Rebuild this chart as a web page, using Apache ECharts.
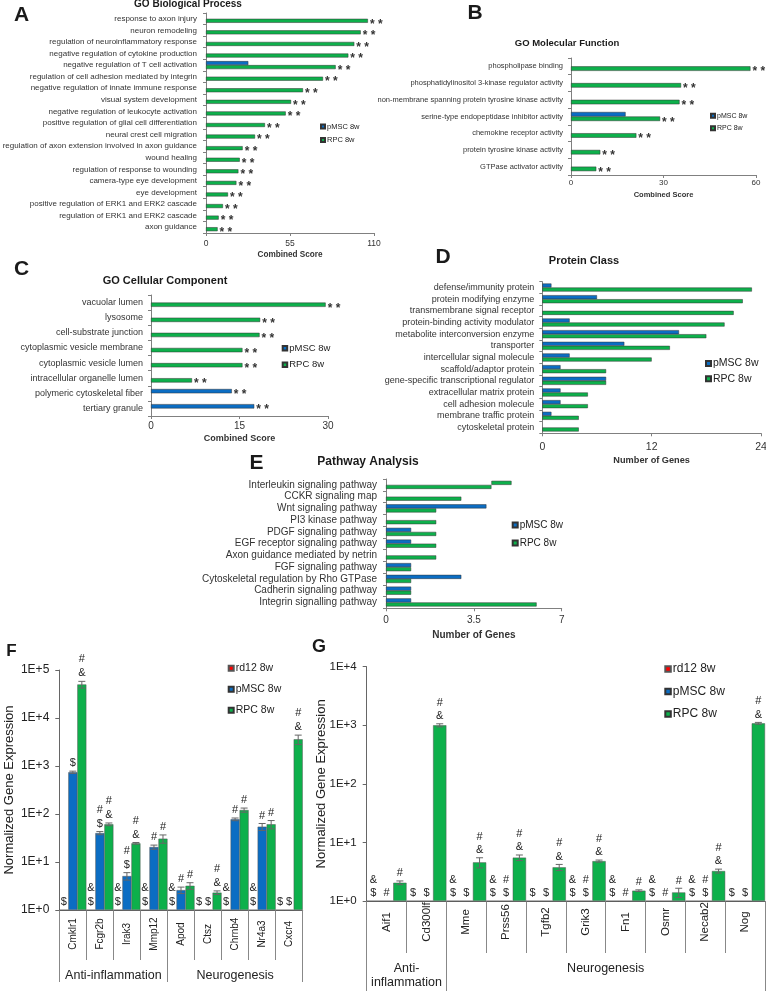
<!DOCTYPE html>
<html><head><meta charset="utf-8">
<script src="https://cdn.jsdelivr.net/npm/echarts@6/dist/echarts.min.js"></script>
<style>html,body{margin:0;padding:0;background:#fff}#c{width:766px;height:991px}</style>
</head><body><div id="c"></div>
<script>
const FONT = 'Liberation Sans, Arial, sans-serif';
const BLUE = '#0B6DC3', GREEN = '#0DB04B', RED = '#FF0000';

// ---------- Panel A: GO Biological Process ----------
const aCats = ['response to axon injury','neuron remodeling','regulation of neuroinflammatory response','negative regulation of cytokine production','negative regulation of T cell activation','regulation of cell adhesion mediated by integrin','negative regulation of innate immune response','visual system development','negative regulation of leukocyte activation','positive regulation of glial cell differentiation','neural crest cell migration','regulation of axon extension involved in axon guidance','wound healing','regulation of response to wounding','camera-type eye development','eye development','positive regulation of ERK1 and ERK2 cascade','regulation of ERK1 and ERK2 cascade','axon guidance'];
const aPMSC = [0,0,0,0,27.7,0,0,0,0,0,0,0,0,0,0,0,0,0,0];
const aRPC = [106,101.3,97.1,93.2,84.9,76.6,63.5,55.7,52.2,38.6,32.1,24,22.1,21.2,19.9,14.4,11.1,8.3,7.6];

// ---------- Panel B: GO Molecular Function ----------
const bCats = ['phospholipase binding','phosphatidylinositol 3-kinase regulator activity','non-membrane spanning protein tyrosine kinase activity','serine-type endopeptidase inhibitor activity','chemokine receptor activity','protein tyrosine kinase activity','GTPase activator activity'];
const bPMSC = [0,0,0,17.7,0,0,0];
const bRPC = [58.2,35.7,35.2,28.9,21.2,9.5,8.2];

// ---------- Panel C: GO Cellular Component ----------
const cCats = ['vacuolar lumen','lysosome','cell-substrate junction','cytoplasmic vesicle membrane','cytoplasmic vesicle lumen','intracellular organelle lumen','polymeric cytoskeletal fiber','tertiary granule'];
const cPMSC = [0,0,0,0,0,0,13.7,17.5];
const cRPC = [29.6,18.5,18.4,15.5,15.5,6.95,0,0];

// ---------- Panel D: Protein Class ----------
const dCats = ['defense/immunity protein','protein modifying enzyme','transmembrane signal receptor','protein-binding activity modulator','metabolite interconversion enzyme','transporter','intercellular signal molecule','scaffold/adaptor protein','gene-specific transcriptional regulator','extracellular matrix protein','cell adhesion molecule','membrane traffic protein','cytoskeletal protein'];
const dPMSC = [1,6,0,3,15,9,3,2,7,2,2,1,0];
const dRPC = [23,22,21,20,18,14,12,7,7,5,5,4,4];

// ---------- Panel E: Pathway Analysis ----------
const eCats = ['Interleukin signaling pathway','CCKR signaling map','Wnt signaling pathway','PI3 kinase pathway','PDGF signaling pathway','EGF receptor signaling pathway','Axon guidance mediated by netrin','FGF signaling pathway','Cytoskeletal regulation by Rho GTPase','Cadherin signaling pathway','Integrin signalling pathway'];
const ePMSC = [0,0,4,0,1,1,0,1,3,1,1];
const eRPC = [4.2,3,2,2,2,2,2,1,1,1,6];
const eRPCExtraTo = [5,0,0,0,0,0,0,0,0,0,0];

// ---------- Panel F ----------
const fCats = ['Cmklr1','Fcgr2b','Irak3','Mmp12','Apod','Ctsz','Chrnb4','Nr4a3','Cxcr4'];
const fRd12 = [1,1,1,1,1,1,1,1,1];
const fPMSC = [741,40,5.1,20.5,2.6,1,77.5,54.4,1];
const fRPC = [50000,61,24.5,30.6,3.2,2.3,121,61,3600];
const fPMSCErr = [40,3,0.9,2,0.4,0,5,9,0];
const fRPCErr = [8000,4,1,6,0.5,0.2,12,12,800];
const fRd12Sig = ['$','&\n$','&\n$','&\n$','&\n$','$','&\n$','&\n$','$'];
const fPMSCSig = ['$','#\n$','#\n$','#','#','$','#','#','$'];
const fRPCSig = ['#\n&','#\n&','#\n&','#','#','#\n&','#','#','#\n&'];
const fGroups = [{name:'Anti-inflammation', from:0, to:4},{name:'Neurogenesis', from:4, to:9}];

// ---------- Panel G ----------
const gCats = ['Aif1','Cd300lf','Mme','Prss56','Tgfb2','Grik3','Fn1','Osmr','Necab2','Nog'];
const gRd12 = [1,1,1,1,1,1,1,1,1,1];
const gPMSC = [1,1,1,1,1,1,1,1,1,1];
const gRPC = [2.05,1000,4.57,5.5,3.76,4.8,1.5,1.4,3.25,1080];
const gPMSCErr = [0,0,0,0,0,0,0,0,0,0];
const gRPCErr = [0.15,60,0.9,0.6,0.45,0.2,0.05,0.25,0.25,40];
const gRd12Sig = ['&\n$','$','&\n$','&\n$','$','&\n$','&\n$','&\n$','&\n$','$'];
const gPMSCSig = ['#','$','$','#\n$','$','#\n$','#','#','#\n$','$'];
const gRPCSig = ['#','#\n&','#\n&','#\n&','#\n&','#\n&','#','#','#\n&','#\n&'];
const gGroups = [{name:'Anti-\ninflammation', from:0, to:2},{name:'Neurogenesis', from:2, to:10}];

const grids = [], xAxes = [], yAxes = [], series = [], legends = [], graphics = [];

function addLegend(names, left, cy, font, gap, icon) {
  legends.push({
    show: true, orient: 'vertical', left: left, top: cy - Math.max(font, icon) / 2 - 1,
    itemWidth: icon, itemHeight: icon, itemGap: gap, icon: 'rect',
    selectedMode: false, padding: 0, data: names,
    textStyle: {fontSize: font, color: '#222', fontFamily: FONT, padding: [0, 0, 0, -3]}
  });
}

function hPanel(cfg) {
  const gi = grids.length;
  grids.push({left: cfg.left, top: cfg.top, width: cfg.width, height: cfg.height, outerBoundsMode: 'none', containLabel: false});
  xAxes.push({
    gridIndex: gi, type: 'value', min: 0, max: cfg.max, interval: cfg.interval,
    axisLine: {show: true, lineStyle: {color: '#808080', width: 1}},
    axisTick: {show: true, length: 3, lineStyle: {color: '#808080'}},
    splitLine: {show: false},
    axisLabel: {fontSize: cfg.tickFont, color: '#333', margin: cfg.tickMargin, fontFamily: FONT},
    name: cfg.axisName, nameLocation: 'middle', nameGap: cfg.nameGap,
    nameTextStyle: {fontSize: cfg.nameFont, fontWeight: 'bold', color: '#333', fontFamily: FONT}
  });
  yAxes.push({
    gridIndex: gi, type: 'category', data: cfg.cats, inverse: true,
    axisLine: {show: true, lineStyle: {color: '#808080'}},
    axisTick: {show: true, length: 3, interval: 0, lineStyle: {color: '#808080'}},
    axisLabel: {interval: 0, fontSize: cfg.catFont, color: '#333', margin: cfg.catMargin, fontFamily: FONT}
  });
  const starLabel = (show) => ({show: show, position: 'right', distance: 2, formatter: '* *',
    fontSize: 12, fontWeight: 'bold', color: '#333', fontFamily: FONT, offset: [0, 3.5]});
  const base = {type: 'bar', xAxisIndex: gi, yAxisIndex: gi, barGap: '0%', barCategoryGap: cfg.gap,
    emphasis: {disabled: true}, animation: false};
  series.push(Object.assign({}, base, {
    name: 'pMSC 8w', stack: cfg.extraTo ? 'top' + gi : undefined,
    data: cfg.pm.map(v => v > 0 ? v : '-'),
    itemStyle: {color: BLUE, borderColor: '#333', borderWidth: 0.5},
    label: starLabel(cfg.starsP)
  }));
  if (cfg.extraTo) {
    series.push(Object.assign({}, base, {
      name: 'gap', stack: 'top' + gi,
      data: cfg.extraTo.map((v, i) => v > 0 ? cfg.rp[i] - cfg.pm[i] : '-'),
      itemStyle: {color: 'rgba(0,0,0,0)', borderWidth: 0}, silent: true
    }));
    series.push(Object.assign({}, base, {
      name: 'RPC extra', stack: 'top' + gi,
      data: cfg.extraTo.map((v, i) => v > 0 ? v - cfg.rp[i] : '-'),
      itemStyle: {color: GREEN, borderColor: '#333', borderWidth: 0.5}
    }));
  }
  series.push(Object.assign({}, base, {
    name: 'RPC 8w',
    data: cfg.rp.map(v => v > 0 ? v : '-'),
    itemStyle: {color: GREEN, borderColor: '#333', borderWidth: 0.5},
    label: starLabel(cfg.starsR)
  }));
  addLegend(['pMSC 8w', 'RPC 8w'], cfg.legLeft, cfg.legTop, cfg.legFont, cfg.legGap, cfg.legIcon);
}

function vPanel(cfg) {
  const gi = grids.length;
  grids.push({left: cfg.left, top: cfg.top, width: cfg.width, height: cfg.height, outerBoundsMode: 'none', containLabel: false});
  xAxes.push({
    gridIndex: gi, type: 'category', data: cfg.cats,
    axisLine: {show: true, lineStyle: {color: '#666', width: 1}},
    axisTick: {show: true, length: cfg.tickLen, interval: 0, alignWithLabel: false, lineStyle: {color: '#888'}},
    axisLabel: {interval: 0, rotate: 90, align: 'center', verticalAlign: 'middle', margin: cfg.catMargin,
      fontSize: cfg.catFont, color: '#222', fontFamily: FONT}
  });
  yAxes.push({
    gridIndex: gi, type: 'log', logBase: 10, min: 1, max: cfg.max,
    axisLine: {show: true, lineStyle: {color: '#666', width: 1}},
    axisTick: {show: true, length: 4, lineStyle: {color: '#666'}},
    splitLine: {show: false}, minorTick: {show: false},
    axisLabel: {fontSize: cfg.tickFont, color: '#222', margin: cfg.tickMargin, fontFamily: FONT,
      formatter: v => '1E+' + Math.round(Math.log10(v))},
    name: 'Normalized Gene Expression', nameLocation: 'middle', nameGap: cfg.nameGap, nameMoveOverlap: false,
    nameTextStyle: {fontSize: cfg.nameFont, color: '#222', fontFamily: FONT}
  });
  const base = {type: 'bar', xAxisIndex: gi, yAxisIndex: gi, barGap: '0%', barCategoryGap: '0%',
    emphasis: {disabled: true}, animation: false};
  series.push(Object.assign({}, base, {name: 'rd12 8w', data: cfg.rd,
    itemStyle: {color: RED, borderColor: '#555', borderWidth: 0.5}}));
  series.push(Object.assign({}, base, {name: 'pMSC 8w', data: cfg.pm,
    itemStyle: {color: BLUE, borderColor: '#555', borderWidth: 0.5}}));
  series.push(Object.assign({}, base, {name: 'RPC 8w', data: cfg.rp,
    itemStyle: {color: GREEN, borderColor: '#555', borderWidth: 0.5}}));
  // error bars + significance marks
  const items = [];
  cfg.cats.forEach((c, i) => {
    items.push({cat: i, slot: 0, v: cfg.rd[i], eu: 0, ed: 0, text: cfg.rdSig[i]});
    items.push({cat: i, slot: 1, v: cfg.pm[i], eu: cfg.pmErr[i], ed: cfg.pmErr[i], text: cfg.pmSig[i]});
    items.push({cat: i, slot: 2, v: cfg.rp[i], eu: cfg.rpErr[i], ed: cfg.rpErr[i], text: cfg.rpSig[i]});
  });
  series.push({
    type: 'custom', name: 'marks', xAxisIndex: gi, yAxisIndex: gi, z: 5, clip: false, silent: true,
    animation: false,
    data: items.map(it => [it.cat, it.v + it.eu]),
    encode: {x: 0, y: 1},
    renderItem: (params, api) => {
      const it = items[params.dataIndex];
      const c0 = api.coord([it.cat, it.v]);
      const band = api.coord([1, 1])[0] - api.coord([0, 1])[0];
      const x = c0[0] + (it.slot - 1) * band / 3;
      const ch = [];
      let yTop = c0[1];
      if (it.eu > 0) {
        const yH = api.coord([it.cat, it.v + it.eu])[1];
        const yL = api.coord([it.cat, Math.max(it.v - it.ed, 1)])[1];
        const ls = {stroke: '#666', lineWidth: 1};
        ch.push({type: 'line', shape: {x1: x, y1: yL, x2: x, y2: yH}, style: ls});
        ch.push({type: 'line', shape: {x1: x - 3.5, y1: yH, x2: x + 3.5, y2: yH}, style: ls});
        ch.push({type: 'line', shape: {x1: x - 3.5, y1: yL, x2: x + 3.5, y2: yL}, style: ls});
        yTop = yH;
      }
      if (it.text) {
        ch.push({type: 'text', x: x, y: yTop - 1, style: {text: it.text, fontSize: cfg.sigFont, fontFamily: FONT,
          fill: '#222', align: 'center', verticalAlign: 'bottom', textAlign: 'center', textVerticalAlign: 'bottom',
          lineHeight: cfg.sigLine}});
      }
      return {type: 'group', children: ch};
    }
  });
  // group axis on an overlapping grid
  const gj = grids.length;
  grids.push({left: cfg.left, top: cfg.top, width: cfg.width, height: cfg.height, outerBoundsMode: 'none', containLabel: false});
  const bounds = [0].concat(cfg.groups.map(g => g.to));
  const centers = cfg.groups.map(g => (g.from + g.to) / 2);
  xAxes.push({
    gridIndex: gj, type: 'value', min: 0, max: cfg.cats.length, position: 'bottom',
    axisLine: {show: false}, splitLine: {show: false},
    axisTick: {show: true, customValues: bounds, length: cfg.groupTickLen, lineStyle: {color: '#888'}},
    axisLabel: {show: true, customValues: centers, margin: cfg.groupMargin, fontSize: cfg.groupFont,
      lineHeight: cfg.groupFont + 1.5, color: '#222', fontFamily: FONT, verticalAlign: 'top',
      formatter: v => { const g = cfg.groups.find(gg => Math.abs((gg.from + gg.to) / 2 - v) < 1e-6); return g ? g.name : ''; }}
  });
  yAxes.push({gridIndex: gj, type: 'value', show: false, min: 0, max: 1});
  addLegend(['rd12 8w', 'pMSC 8w', 'RPC 8w'], cfg.legLeft, cfg.legTop, cfg.legFont, cfg.legGap, cfg.legIcon);
}

hPanel({left: 206, top: 13, width: 168, height: 220, max: 110, interval: 55, cats: aCats, pm: aPMSC, rp: aRPC,
  gap: '31%', catFont: 8, catMargin: 9, tickFont: 8.5, tickMargin: 6, axisName: 'Combined Score', nameFont: 8.2, nameGap: 18,
  starsP: false, starsR: true, legLeft: 320, legTop: 127.3, legFont: 7.5, legGap: 5.5, legIcon: 4});
hPanel({left: 571, top: 58, width: 185, height: 117, max: 60, interval: 30, cats: bCats, pm: bPMSC, rp: bRPC,
  gap: '46%', catFont: 7.5, catMargin: 8, tickFont: 8, tickMargin: 4, axisName: 'Combined Score', nameFont: 7.5, nameGap: 16,
  starsP: false, starsR: true, legLeft: 710, legTop: 116.7, legFont: 7, legGap: 5.5, legIcon: 4});
hPanel({left: 151, top: 295, width: 177, height: 121, max: 30, interval: 15, cats: cCats, pm: cPMSC, rp: cRPC,
  gap: '43%', catFont: 9, catMargin: 8, tickFont: 10, tickMargin: 5, axisName: 'Combined Score', nameFont: 9, nameGap: 18,
  starsP: true, starsR: true, legLeft: 281.7, legTop: 349, legFont: 9.5, legGap: 6.5, legIcon: 4.5});
hPanel({left: 542.3, top: 281.7, width: 218.7, height: 151.6, max: 24, interval: 12, cats: dCats, pm: dPMSC, rp: dRPC,
  gap: '31%', catFont: 9, catMargin: 8, tickFont: 10.5, tickMargin: 8, axisName: 'Number of Genes', nameFont: 9.2, nameGap: 23,
  starsP: false, starsR: false, legLeft: 705, legTop: 364.3, legFont: 10.5, legGap: 4.2, legIcon: 5});
hPanel({left: 386, top: 479, width: 175.7, height: 129.3, max: 7, interval: 3.5, cats: eCats, pm: ePMSC, rp: eRPC, extraTo: eRPCExtraTo,
  gap: '31%', catFont: 10, catMargin: 9, tickFont: 10, tickMargin: 7, axisName: 'Number of Genes', nameFont: 10, nameGap: 22,
  starsP: false, starsR: false, legLeft: 511.7, legTop: 526, legFont: 10, legGap: 8, legIcon: 5});

vPanel({left: 59.3, top: 670, width: 243.4, height: 240, max: 100000, cats: fCats, rd: fRd12, pm: fPMSC, rp: fRPC,
  pmErr: fPMSCErr, rpErr: fRPCErr, rdSig: fRd12Sig, pmSig: fPMSCSig, rpSig: fRPCSig, groups: fGroups,
  tickLen: 50, groupTickLen: 72, catMargin: 24, catFont: 10, tickFont: 12, tickMargin: 10, nameGap: 43.5, nameFont: 13,
  groupMargin: 59, groupFont: 12.5, sigFont: 11, sigLine: 14,
  legLeft: 227.7, legTop: 669, legFont: 10.5, legGap: 10, legIcon: 5});
vPanel({left: 366.7, top: 666.7, width: 398.3, height: 234.3, max: 10000, cats: gCats, rd: gRd12, pm: gPMSC, rp: gRPC,
  pmErr: gPMSCErr, rpErr: gRPCErr, rdSig: gRd12Sig, pmSig: gPMSCSig, rpSig: gRPCSig, groups: gGroups,
  tickLen: 52, groupTickLen: 90, catMargin: 21, catFont: 11.5, tickFont: 11.5, tickMargin: 10, nameGap: 38.5, nameFont: 13,
  groupMargin: 61, groupFont: 12.5, sigFont: 11, sigLine: 13.5,
  legLeft: 664.3, legTop: 670, legFont: 12, legGap: 10.5, legIcon: 5.5});

function addText(x, y, text, size, bold) {
  graphics.push({type: 'text', x: x, y: y, silent: true, z: 10,
    style: {text: text, fontSize: size, fontWeight: bold ? 'bold' : 'normal', fontFamily: FONT, fill: '#1a1a1a',
      align: 'center', verticalAlign: 'middle', textAlign: 'center', textVerticalAlign: 'middle'}});
}
// panel titles
addText(188, 4.5, 'GO Biological Process', 10, true);
addText(567, 43.7, 'GO Molecular Function', 9.5, true);
addText(165, 281, 'GO Cellular Component', 11, true);
addText(584, 260.7, 'Protein Class', 11, true);
addText(368, 462, 'Pathway Analysis', 12, true);
// panel letters
addText(21.5, 15, 'A', 21, true);
addText(475, 13.5, 'B', 21, true);
addText(21.5, 269, 'C', 21, true);
addText(443, 257.5, 'D', 21, true);
addText(256.5, 463, 'E', 21, true);
addText(11.5, 651.5, 'F', 17, true);
addText(319, 647.5, 'G', 18, true);

const chart = echarts.init(document.getElementById('c'), null, {renderer: 'canvas', devicePixelRatio: 1});
chart.setOption({
  animation: false,
  backgroundColor: '#fff',
  textStyle: {fontFamily: FONT},
  grid: grids, xAxis: xAxes, yAxis: yAxes, series: series, legend: legends,
  graphic: graphics, tooltip: {show: false}
});
</script></body></html>
